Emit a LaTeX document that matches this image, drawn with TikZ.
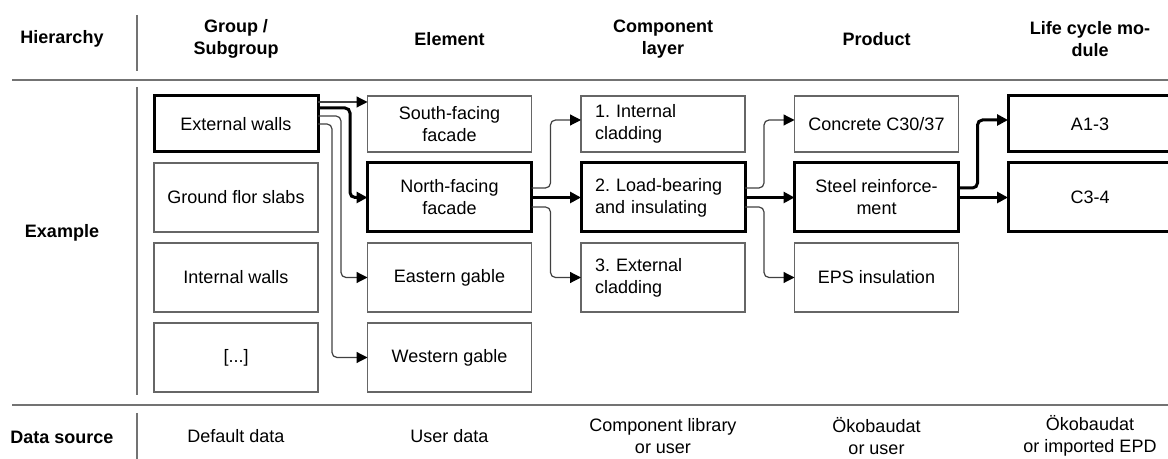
\documentclass[tikz,border=0pt]{standalone}
\usepackage{fontspec}
\setmainfont{Liberation Sans}
\frenchspacing
\usetikzlibrary{arrows.meta, positioning}
\tikzset{
  box/.style={draw=black!60, line width=0.7pt, minimum width=82pt, minimum height=34.5pt,
    inner sep=0pt, outer sep=0pt, align=center, font=\fontsize{9}{11}\selectfont},
  toprow/.style={minimum height=28pt},
  hit/.style={draw=black, line width=1.5pt},
  layer/.style={text width=68pt, align=left},
  head/.style={font=\fontsize{9}{11}\selectfont\bfseries, align=center},
  src/.style={font=\fontsize{9}{11}\selectfont, align=center},
  link/.style={draw=black!75, line width=0.6pt, rounded corners=2.5pt,
    -{Triangle[length=5.5pt,width=5.5pt,color=black]}},
  mainlink/.style={link, draw=black, line width=1.5pt},
  rule/.style={draw=black!55, line width=0.7pt},
}

\begin{document}
\begin{tikzpicture}[x=0.5pt, y=-0.5pt, node distance=5.5pt and 24.75pt]
\useasboundingbox (0,0) rectangle (1168,459);

% table rules
\draw[rule] (12,80) -- (1168,80);
\draw[rule] (12,405) -- (1168,405);
\draw[rule] (137,15) -- (137,71);
\draw[rule] (137,87) -- (137,395);
\draw[rule] (137,413) -- (137,459);

% group / subgroup
\node[box, hit, toprow] (ext) at (236,124) {External walls};
\node[box, below=of ext] (ground) {Ground flor slabs};
\node[box, below=of ground] (intw) {Internal walls};
\node[box, below=of intw] (more) {[...]};
% element
\node[box, toprow, right=of ext] (south) {South-facing\\facade};
\node[box, hit, right=of ground] (northf) {North-facing\\facade};
\node[box, right=of intw] (eastg) {Eastern gable};
\node[box, right=of more] (westg) {Western gable};
% component layer
\node[box, layer, toprow, right=of south] (lay1) {1. Internal\\cladding};
\node[box, hit, layer, right=of northf] (lay2) {2. Load-bearing\\and insulating};
\node[box, layer, right=of eastg] (lay3) {3. External\\cladding};
% product
\node[box, toprow, right=of lay1] (concrete) {Concrete C30/37};
\node[box, hit, right=of lay2] (steel) {Steel reinforce-\\ment};
\node[box, right=of lay3] (eps) {EPS insulation};
% life cycle module
\node[box, hit, toprow, right=of concrete] (a13) {A1-3};
\node[box, hit, right=of steel] (c34) {C3-4};

% headers
\coordinate (hrow) at (0,39);
\coordinate (srow) at (0,436);
\node[head] (hhier) at (62,39) {Hierarchy};
\node[head] (hgroup) at (ext |- hrow) {Group /\\Subgroup};
\node[head] (helem) at (south |- hrow) {Element};
\node[head] (hlayer) at (lay1 |- hrow) {Component\\layer};
\node[head] (hprod) at (concrete |- hrow) {Product};
\node[head] (hlcm) at (a13 |- hrow) {Life cycle mo-\\dule};
\node[head] (hexample) at (62,233) {Example};

% data source
\node[head] (hsource) at (62,437) {Data source};
\node[src] (sgroup) at (ext |- srow) {Default data};
\node[src] (selem) at (south |- srow) {User data};
\node[src] (slayer) at (lay1 |- srow) {Component library\\or user};
\node[src] (sprod) at (concrete |- srow) {Ökobaudat\\or user};
\node[src] (slcm) at (a13 |- srow) {Ökobaudat\\or imported EPD};

% connectors
\draw[link] ([yshift=11pt]ext.east) -- ([yshift=11pt]south.west);
\draw[link] ([yshift=4pt]ext.east) -- ++(11.5pt,0) |- (eastg.west);
\draw[link] (ext.east) -- ++(7pt,0) |- (westg.west);
\draw[mainlink] ([yshift=8pt]ext.east) -- ++(16pt,0) |- (northf.west);

\draw[link] ([yshift=4.75pt]northf.east) -- ++(9.5pt,0) |- ([yshift=2pt]lay1.west);
\draw[link] ([yshift=-4.75pt]northf.east) -- ++(9.5pt,0) |- (lay3.west);
\draw[mainlink] (northf.east) -- (lay2.west);

\draw[link] ([yshift=4.75pt]lay2.east) -- ++(9.5pt,0) |- ([yshift=2pt]concrete.west);
\draw[link] ([yshift=-4.75pt]lay2.east) -- ++(9.5pt,0) |- (eps.west);
\draw[mainlink] (lay2.east) -- (steel.west);

\draw[mainlink] ([yshift=4.75pt]steel.east) -- ++(9.5pt,0) |- ([yshift=2pt]a13.west);
\draw[mainlink] (steel.east) -- (c34.west);
\end{tikzpicture}
\end{document}
